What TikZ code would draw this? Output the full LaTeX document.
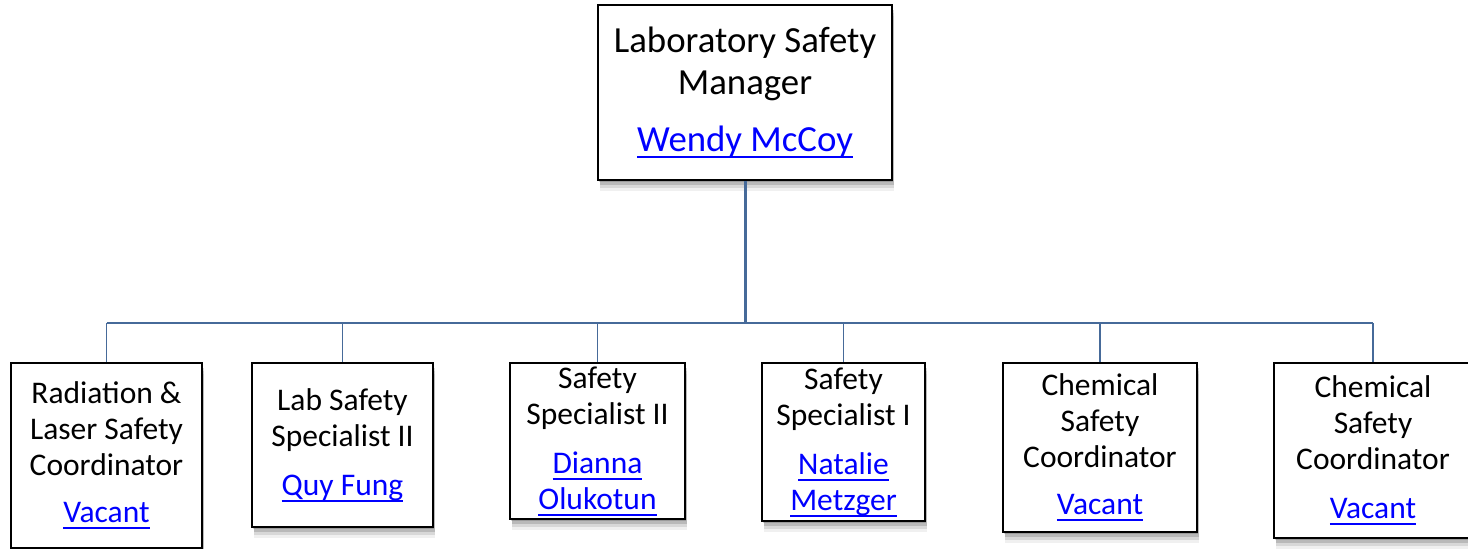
\documentclass[tikz,border=0pt]{standalone}
\usepackage{fontspec}
\setmainfont{Carlito}
\usetikzlibrary{shadows}
\definecolor{linkblue}{RGB}{0,0,255}
\definecolor{conn}{RGB}{70,106,153}
\newcommand{\lnk}[1]{{\color{linkblue}\setbox0\hbox{#1}\rlap{\rule[-6.4pt]{\wd0}{1.9pt}}\box0}}
\begin{document}
\begin{tikzpicture}[x=1pt,y=-1pt,
  box/.style={draw=black, line width=2pt, fill=white, align=center, inner sep=0pt,
    drop shadow={shadow xshift=1pt, shadow yshift=-2pt, opacity=0.16, fill=black},
    drop shadow={shadow xshift=1.5pt, shadow yshift=-5pt, opacity=0.14, fill=black},
    drop shadow={shadow xshift=2pt, shadow yshift=-8pt, opacity=0.10, fill=black},
    drop shadow={shadow xshift=2pt, shadow yshift=-11pt, opacity=0.06, fill=black}},
  topbox/.style={box, font=\fontsize{36.8}{41.7}\selectfont},
  kidbox/.style={box, font=\fontsize{31.5}{36}\selectfont},
  mainline/.style={draw=conn, line width=3pt},
  busline/.style={draw=conn, line width=2pt},
  dropline/.style={draw=conn, line width=1.5pt}]
\useasboundingbox (0,0) rectangle (1468,549);
% boxes
\node[topbox, minimum width=294pt, minimum height=175pt] (top) at (745,92.5)
  {Laboratory Safety\\Manager\\[15pt]\lnk{Wendy McCoy}};
\node[kidbox, minimum width=191pt, minimum height=185pt] (b1) at (106.5,455.5)
  {Radiation \&\\Laser Safety\\Coordinator\\[11pt]\lnk{Vacant}};
\node[kidbox, minimum width=181pt, minimum height=164pt] (b2) at (342.5,445)
  {Lab Safety\\Specialist II\\[13pt]\lnk{Quy Fung}};
\node[kidbox, minimum width=175pt, minimum height=156pt] (b3) at (597.5,441)
  {Safety\\Specialist II\\[13pt]\lnk{Dianna}\\\lnk{Olukotun}};
\node[kidbox, minimum width=163pt, minimum height=158pt] (b4) at (843.5,442)
  {Safety\\Specialist I\\[13pt]\lnk{Natalie}\\\lnk{Metzger}};
\node[kidbox, minimum width=194pt, minimum height=169pt] (b5) at (1100,447.5)
  {Chemical\\Safety\\Coordinator\\[11pt]\lnk{Vacant}};
\node[kidbox, minimum width=198pt, minimum height=175pt] (b6) at (1373,450.5)
  {Chemical\\Safety\\Coordinator\\[13pt]\lnk{Vacant}};
% connectors
\coordinate (hub) at (745,323);
\draw[busline] (b1.north |- hub) -- (b6.north |- hub);
\draw[mainline] (top.south) -- (hub);
\foreach \b in {b1,b2,b3,b4,b5,b6}
  \draw[dropline] (\b.north |- hub) -- (\b.north);
\end{tikzpicture}
\end{document}
